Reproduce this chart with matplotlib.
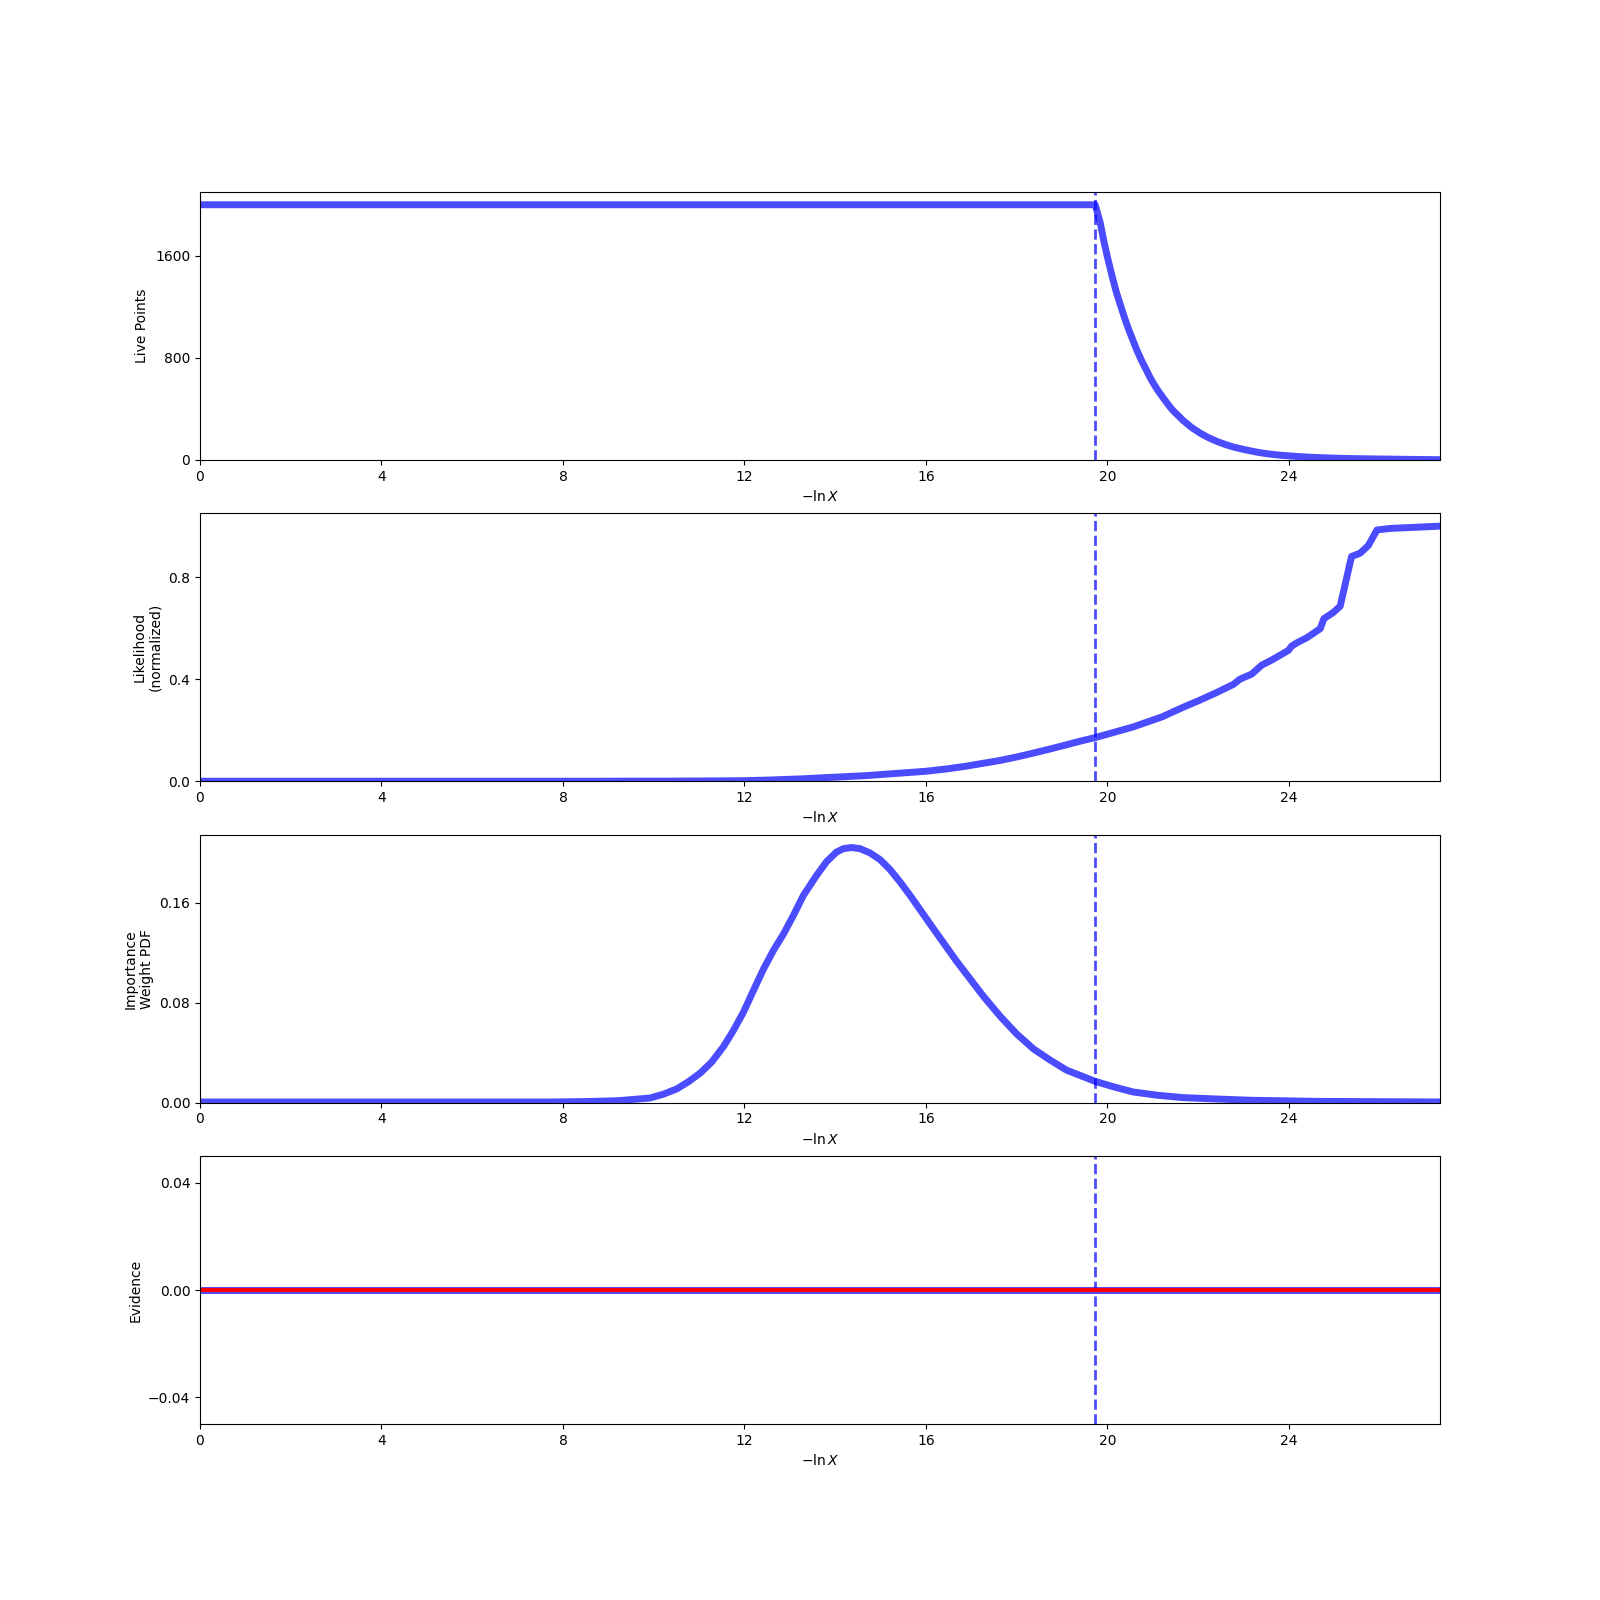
"""
Nested-sampling run summary: live points, likelihood, importance weights, evidence
against -ln X.
"""

import matplotlib
matplotlib.use("Agg")
import matplotlib.pyplot as plt

# ── data ──────────────────────────────────────────────────────────────────────
LNX_MAX = 27.33      # right end of the -lnX axis
LNX_STOP = 19.73     # where the baseline run stopped (dashed marker)

live_x = [0.0, 19.73, 19.84, 19.93, 20.02, 20.11, 20.2, 20.29, 20.38, 20.47,
          20.57, 20.66, 20.75, 20.85, 20.94, 21.03, 21.12, 21.22, 21.31, 21.4,
          21.49, 21.58, 21.67, 21.85, 22.04, 22.22, 22.41, 22.6, 22.78, 22.96,
          23.14, 23.33, 23.51, 23.7, 23.88, 24.24, 24.6, 25.2, 25.9, 26.6, 27.33]
live_y = [2000, 2000, 1860, 1700, 1560, 1430, 1310, 1210, 1110, 1020,
          930, 850, 780, 710, 645, 590, 540, 490, 447, 405,
          370, 340, 308, 255, 210, 175, 145, 120, 100, 85,
          71, 58, 48, 40, 34, 25, 18, 11, 7, 4, 1]

like_x = [0.0, 8.8, 10.5, 12.0, 12.6, 13.22, 13.9, 14.69, 15.3, 16.0,
          16.45, 16.89, 17.25, 17.62, 18.0, 18.36, 18.73, 19.1, 19.4, 19.73,
          20.15, 20.57, 21.2, 21.67, 22.04, 22.41, 22.78, 22.92, 23.18, 23.40,
          23.62, 23.99, 24.06, 24.21, 24.39, 24.69, 24.77, 24.98, 25.13, 25.38,
          25.57, 25.75, 25.94, 26.23, 27.33]
like_y = [0.0, 0.0, 0.0005, 0.002, 0.005, 0.009, 0.015, 0.022, 0.030, 0.039,
          0.048, 0.059, 0.070, 0.081, 0.095, 0.110, 0.126, 0.143, 0.157, 0.171,
          0.192, 0.213, 0.252, 0.290, 0.318, 0.348, 0.380, 0.400, 0.420, 0.455,
          0.475, 0.513, 0.530, 0.546, 0.562, 0.598, 0.637, 0.662, 0.686, 0.881,
          0.894, 0.924, 0.985, 0.991, 1.0]

wt_x = [0.0, 7.7, 8.46, 9.2, 9.7, 9.92, 10.21, 10.51, 10.76, 11.03,
        11.28, 11.54, 11.76, 11.98, 12.2, 12.42, 12.64, 12.86, 13.08, 13.3,
        13.59, 13.81, 14.03, 14.18, 14.36, 14.55, 14.77, 14.99, 15.21, 15.43,
        15.65, 16.17, 16.68, 17.27, 17.64, 18.0, 18.37, 18.74, 19.1, 19.73,
        20.15, 20.57, 21.1, 21.67, 22.4, 23.14, 24.6, 27.33]
wt_y = [0.0005, 0.0005, 0.0008, 0.0015, 0.003, 0.0037, 0.0067, 0.011, 0.0166, 0.0238,
        0.0326, 0.045, 0.058, 0.0726, 0.090, 0.107, 0.122, 0.135, 0.150, 0.166,
        0.182, 0.193, 0.2007, 0.2034, 0.2043, 0.2034, 0.1999, 0.1946, 0.1866, 0.1767,
        0.166, 0.139, 0.113, 0.085, 0.069, 0.055, 0.043, 0.034, 0.026, 0.017,
        0.0125, 0.0085, 0.0059, 0.004, 0.0029, 0.0019, 0.001, 0.0005]

ev_x = [0.0, LNX_MAX]
ev_y = [0.0, 0.0]

XTICKS = [0, 4, 8, 12, 16, 20, 24]
LIVE_TICKS = [0, 800, 1600]
LIKE_TICKS = [0.0, 0.4, 0.8]
WT_TICKS = [0.0, 0.08, 0.16]
EV_TICKS = [-0.04, 0.0, 0.04]

# ── figure ───────────────────────────────────────────────────────────────────
fig, axes = plt.subplots(4, 1, figsize=(16, 16), dpi=100)

panels = [
    (live_x, live_y, "Live Points", LIVE_TICKS, (0, 2100)),
    (like_x, like_y, "Likelihood\n(normalized)", LIKE_TICKS, (0, 1.05)),
    (wt_x, wt_y, "Importance\nWeight PDF", WT_TICKS, (0, 1.05 * max(wt_y))),
    (ev_x, ev_y, "Evidence", EV_TICKS, (-0.05, 0.05)),
]

for ax, (xs, ys, ylab, yticks, ylim) in zip(axes, panels):
    ax.plot(xs, ys, color="blue", alpha=0.7, lw=5)
    ax.axvline(LNX_STOP, color="blue", alpha=0.7, lw=2, ls="--")
    ax.set_xlim(0, LNX_MAX)
    ax.set_ylim(*ylim)
    ax.set_xticks(XTICKS)
    ax.set_yticks(yticks)
    ax.set_xlabel(r"$-\ln X$")
    ax.set_ylabel(ylab)

# evidence estimate on top of its (collapsed) error band
axes[3].plot(ev_x, ev_y, color="red", lw=3)

fig.savefig("out.png", dpi=100)
